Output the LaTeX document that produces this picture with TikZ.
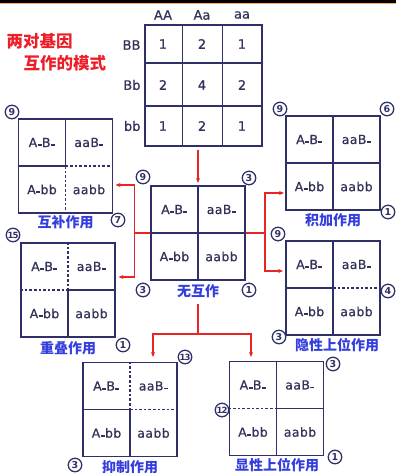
\documentclass[tikz,border=0pt]{standalone}
\usepackage{fontspec}
\setmainfont{DejaVu Sans}
\newfontfamily\cjk{Noto Sans CJK SC}
\newfontfamily\semib{DejaVu Sans}[FakeBold=0.7]
\usetikzlibrary{calc,arrows.meta}
\definecolor{navy}{RGB}{48,48,104}
\definecolor{arrowred}{RGB}{232,36,36}
\definecolor{lblblue}{RGB}{52,62,222}
\definecolor{titlered}{RGB}{236,30,40}
\definecolor{txtnavy}{RGB}{50,50,90}
\newcommand\us{\kern0.03em\rule[0.08em]{0.32em}{0.14em}\kern0.03em}
\tikzset{
  gbox/.style={draw=navy, line width=1.7pt, minimum width=94pt, minimum height=94pt, inner sep=0pt},
  sl/.style={draw=navy, line width=1.5pt},
  dl/.style={draw=navy, line width=1.5pt, dash pattern=on 2.6pt off 2pt},
  cell/.style={font=\semib\fontsize{12.5}{14}\selectfont\addfontfeature{LetterSpace=3}, text=txtnavy},
  cnum/.style={circle, draw=navy, line width=1.3pt, fill=white, inner sep=0pt, minimum size=13.5pt, text=navy, font=\fontsize{9.5}{9.5}\selectfont\bfseries},
  cnumb/.style={cnum, font=\fontsize{8.5}{8.5}\selectfont\bfseries\addfontfeature{LetterSpace=-10}},
  lbl/.style={text=lblblue, font=\cjk\bfseries\fontsize{14}{14}\selectfont},
  conn/.style={draw=arrowred, line width=1.3pt},
  arr/.style={conn, -{Stealth[length=5pt,width=4pt]}},
  tabtxt/.style={text=txtnavy, font=\semib\fontsize{13}{14}\selectfont},
}
\newcommand\cells[1]{%
 \node[cell] (#1-1) at ($(#1)+(-23.5,-23.5)$) {A\us B\us};
 \node[cell] (#1-2) at ($(#1)+(23.5,-23.5)$) {aaB\us};
 \node[cell] (#1-3) at ($(#1)+(-23.5,23.5)$) {A\us bb};
 \node[cell] (#1-4) at ($(#1)+(23.5,23.5)$) {aabb};}
\newcommand\halves[5]{%
 \draw[#2] (#1.north) -- (#1.center);
 \draw[#3] (#1.center) -- (#1.south);
 \draw[#4] (#1.west) -- (#1.center);
 \draw[#5] (#1.center) -- (#1.east);}
\begin{document}
\begin{tikzpicture}[x=1pt,y=-1pt]
\useasboundingbox (0,0) rectangle (396,473);
\fill[white] (0,0) rectangle (396,473);
% top border
\draw[line width=3pt, black] (0,1.5) -- (396,1.5);
\draw[line width=1pt, orange!70] (0,3.6) -- (396,3.6);

% title
\node[text=titlered, font=\cjk\bfseries\fontsize{16.5}{16.5}\selectfont, anchor=west] (t1) at (3,41) {两对基因};
\node[text=titlered, font=\cjk\bfseries\fontsize{16.5}{16.5}\selectfont, anchor=west] (t2) at (20,63) {互作的模式};

% table
\node[draw=navy, line width=1.7pt, minimum width=117pt, minimum height=121pt, inner sep=0pt] (tbl) at (203.5,85.5) {};
\draw[sl] (182.5,25) -- (182.5,146);
\draw[sl] (222.5,25) -- (222.5,146);
\draw[sl] (145,63) -- (262,63);
\draw[sl] (145,106) -- (262,106);
\node[tabtxt] (hAA) at (163,15) {AA};
\node[tabtxt] (hAa) at (202,15) {Aa};
\node[tabtxt] (haa) at (242,15) {aa};
\node[tabtxt, anchor=east] (rBB) at (144,45) {BB};
\node[tabtxt, anchor=east] (rBb) at (144,85) {Bb};
\node[tabtxt, anchor=east] (rbb) at (144,126) {bb};
\node[tabtxt] (n11) at (163,44) {1};
\node[tabtxt] (n12) at (202,44) {2};
\node[tabtxt] (n13) at (242,44) {1};
\node[tabtxt] (n21) at (163,85) {2};
\node[tabtxt] (n22) at (202,85) {4};
\node[tabtxt] (n23) at (242,85) {2};
\node[tabtxt] (n31) at (163,126) {1};
\node[tabtxt] (n32) at (202,126) {2};
\node[tabtxt] (n33) at (242,126) {1};

% boxes
\node[gbox] (cb) at (198,233) {};
\node[gbox] (hb) at (65.5,166) {};
\node[gbox] (dd) at (68,290) {};
\node[gbox] (jj) at (333,163) {};
\node[gbox] (yx) at (333,288) {};
\node[gbox] (yz) at (130,409.5) {};
\node[gbox] (xx) at (276.5,408.5) {};

\halves{cb}{sl}{sl}{sl}{sl}
\halves{hb}{sl}{dl}{sl}{dl}
\halves{dd}{dl}{sl}{dl}{sl}
\halves{jj}{sl}{sl}{sl}{sl}
\halves{yx}{sl}{sl}{sl}{dl}
\halves{yz}{dl}{sl}{sl}{dl}
\halves{xx}{sl}{sl}{dl}{sl}

\cells{cb}\cells{hb}\cells{dd}\cells{jj}\cells{yx}\cells{yz}\cells{xx}

% labels
\node[lbl] (cbl) at (198,291) {无互作};
\node[lbl] (hbl) at (65.5,222) {互补作用};
\node[lbl] (ddl) at (68,348) {重叠作用};
\node[lbl] (jjl) at (333,220) {积加作用};
\node[lbl] (yxl) at (337,345) {隐性上位作用};
\node[lbl] (yzl) at (130,467) {抑制作用};
\node[lbl] (xxl) at (277,465) {显性上位作用};

% circled numbers
\node[cnum] (c1) at (143,177) {9};
\node[cnum] (c2) at (249,178) {3};
\node[cnum] (c3) at (143,290) {3};
\node[cnum] (c4) at (249,290) {1};

\node[cnum] (c5) at (12,112) {9};
\node[cnum] (c6) at (118,220) {7};

\node[cnumb] (c7) at (13,235) {15};
\node[cnum] (c8) at (123,345) {1};

\node[cnum] (c9) at (280,109) {9};
\node[cnum] (c10) at (387,109) {6};
\node[cnum] (c11) at (388,212) {1};

\node[cnum] (c12) at (278,234) {9};
\node[cnum] (c13) at (388,291) {4};
\node[cnum] (c14) at (279,337) {3};

\node[cnumb] (c15) at (185,357) {13};
\node[cnum] (c16) at (75,465) {3};

\node[cnum] (c17) at (333,364) {3};
\node[cnumb] (c18) at (222,410) {12};
\node[cnum] (c19) at (335,457) {1};

% connectors
\coordinate (topsrc) at (198,150);
\coordinate (topdst) at (198,183);
\draw[arr] (topsrc) -- (topdst);

\coordinate (lj) at (134.5,233);
\coordinate (hbin) at (115.5,185);
\coordinate (ddin) at (118.5,277);
\draw[conn] (cb.west) -- (lj);
\draw[arr] (lj) |- (hbin);
\draw[arr] (lj) |- (ddin);

\coordinate (rj) at (265,233);
\coordinate (jjin) at (284,193);
\coordinate (yxin) at (283,271);
\draw[conn] (cb.east) -- (rj);
\draw[arr] (rj) |- (jjin);
\draw[arr] (rj) |- (yxin);

\coordinate (bj) at (198,334);
\coordinate (yzin) at (153,357);
\coordinate (xxin) at (251,357);
\draw[conn] ($(cbl.south)+(0,3)$) -- (bj);
\draw[arr] (bj) -| (yzin);
\draw[arr] (bj) -| (xxin);
\end{tikzpicture}
\end{document}
